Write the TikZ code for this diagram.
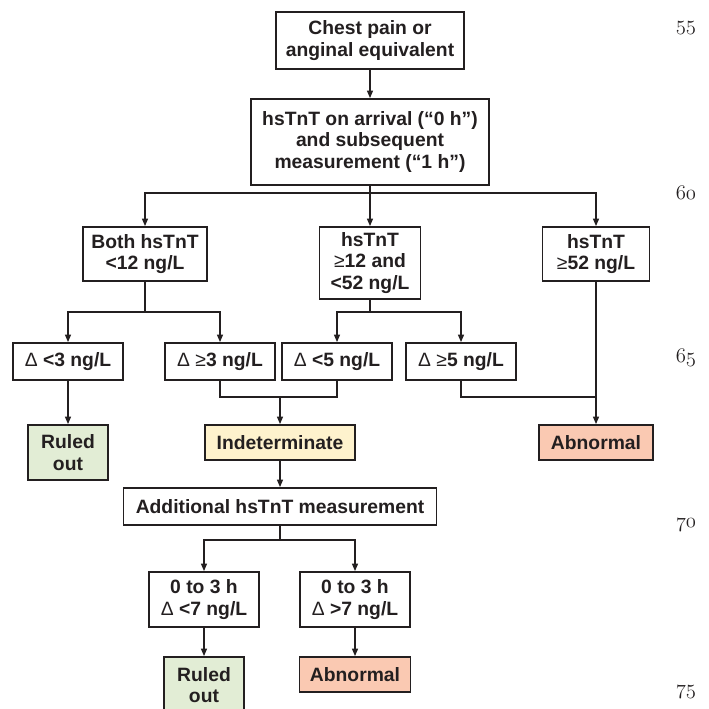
\documentclass[tikz,border=0pt]{standalone}
\usepackage{fontspec}
\newfontfamily\hv{Liberation Sans}
\usetikzlibrary{arrows.meta}
\definecolor{ln}{RGB}{35,31,32}
\definecolor{grn}{RGB}{226,237,213}
\definecolor{ylw}{RGB}{254,242,205}
\definecolor{sal}{RGB}{250,201,178}
\newcommand{\lt}[1]{{\mdseries #1}}
\newcommand{\osn}[1]{$\mathnormal{#1}$}
\tikzset{
  box/.style={draw=ln, line width=1.8pt, fill=white, align=center, text=ln,
    font=\hv\bfseries\fontsize{19.3}{21.5}\selectfont, inner sep=0pt},
  conn/.style={draw=ln, line width=1.4pt},
  arr/.style={conn, -{Triangle[length=7.5pt,width=6pt]}},
  lnum/.style={text=ln, font=\fontsize{20}{20}\selectfont}
}
\begin{document}
\begin{tikzpicture}[x=1pt,y=-1pt]
\useasboundingbox (0,0) rectangle (709,709);
\clip (0,0) rectangle (709,709);
% main column
\node[box, minimum width=188pt, minimum height=57pt] (b1) at (370,40.5) {Chest pain or\\anginal equivalent};
\node[box, minimum width=238pt, minimum height=86pt] (b2) at (370,142) {hsTnT on arrival (“0 h”)\\and subsequent\\measurement (“1 h”)};
% second row
\node[box, minimum width=124pt, minimum height=54pt] (bA) at (145,254) {Both hsTnT\\<12 ng/L};
\node[box, minimum width=101pt, minimum height=72pt] (bB) at (370,263) {hsTnT\\\lt{≥}12 and\\<52 ng/L};
\node[box, minimum width=107pt, minimum height=54pt] (bC) at (596,254) {hsTnT\\\lt{≥}52 ng/L};
% delta row
\node[box, minimum width=110pt, minimum height=37pt] (dA) at (68,361.5) {\lt{Δ} <3 ng/L};
\node[box, minimum width=110pt, minimum height=37pt] (dB) at (220,361.5) {\lt{Δ ≥}3 ng/L};
\node[box, minimum width=110pt, minimum height=37pt] (dC) at (337,361.5) {\lt{Δ} <5 ng/L};
\node[box, minimum width=110pt, minimum height=37pt] (dD) at (461,361.5) {\lt{Δ ≥}5 ng/L};
% outcomes
\node[box, fill=grn, minimum width=80pt, minimum height=55pt] (ro1) at (68,452.5) {Ruled\\out};
\node[box, fill=ylw, minimum width=150pt, minimum height=35pt] (ind) at (280,442.5) {Indeterminate};
\node[box, fill=sal, minimum width=114pt, minimum height=35pt] (ab1) at (596,442.5) {Abnormal};
\node[box, minimum width=313pt, minimum height=37pt] (add) at (280,506.5) {Additional hsTnT measurement};
\node[box, minimum width=110pt, minimum height=55pt] (t1) at (204,599.5) {0 to 3 h\\\lt{Δ} <7 ng/L};
\node[box, minimum width=110pt, minimum height=55pt] (t2) at (355,599.5) {0 to 3 h\\\lt{Δ} >7 ng/L};
\node[box, fill=grn, minimum width=80pt, minimum height=56pt] (ro2) at (204,685) {Ruled\\out};
\node[box, fill=sal, minimum width=111pt, minimum height=35pt] (ab2) at (355,674.5) {Abnormal};
% junctions
\coordinate (j1) at (370,193);
\coordinate (jA) at (145,312);
\coordinate (jB) at (370,312);
\coordinate (jI) at (280,397);
\coordinate (jR) at (596,397);
\coordinate (jD) at (280,540);
% connectors
\draw[arr] (b1) -- (b2);
\draw[arr] (b2) -- (bB);
\draw[arr] (j1) -| (bA.north);
\draw[arr] (j1) -| (bC.north);
\draw[conn] (bA.south) -- (jA);
\draw[arr] (jA) -| (dA.north);
\draw[arr] (jA) -| (dB.north);
\draw[conn] (bB.south) -- (jB);
\draw[arr] (jB) -| (dC.north);
\draw[arr] (jB) -| (dD.north);
\draw[arr] (dA) -- (ro1);
\draw[conn] (dB.south) |- (jI) -| (dC.south);
\draw[arr] (jI) -- (ind.north);
\draw[conn] (dD.south) |- (jR);
\draw[arr] (bC.south) -- (ab1.north);
\draw[arr] (ind) -- (add);
\draw[conn] (add.south) -- (jD);
\draw[arr] (jD) -| (t1.north);
\draw[arr] (jD) -| (t2.north);
\draw[arr] (t1) -- (ro2);
\draw[arr] (t2) -- (ab2);
% line numbers
\node[lnum] (n55) at (686,28) {\osn{55}};
\node[lnum] (n60) at (686,193) {\osn{60}};
\node[lnum] (n65) at (686,358) {\osn{65}};
\node[lnum] (n70) at (686,525) {\osn{70}};
\node[lnum] (n75) at (686,692) {\osn{75}};
\end{tikzpicture}
\end{document}
